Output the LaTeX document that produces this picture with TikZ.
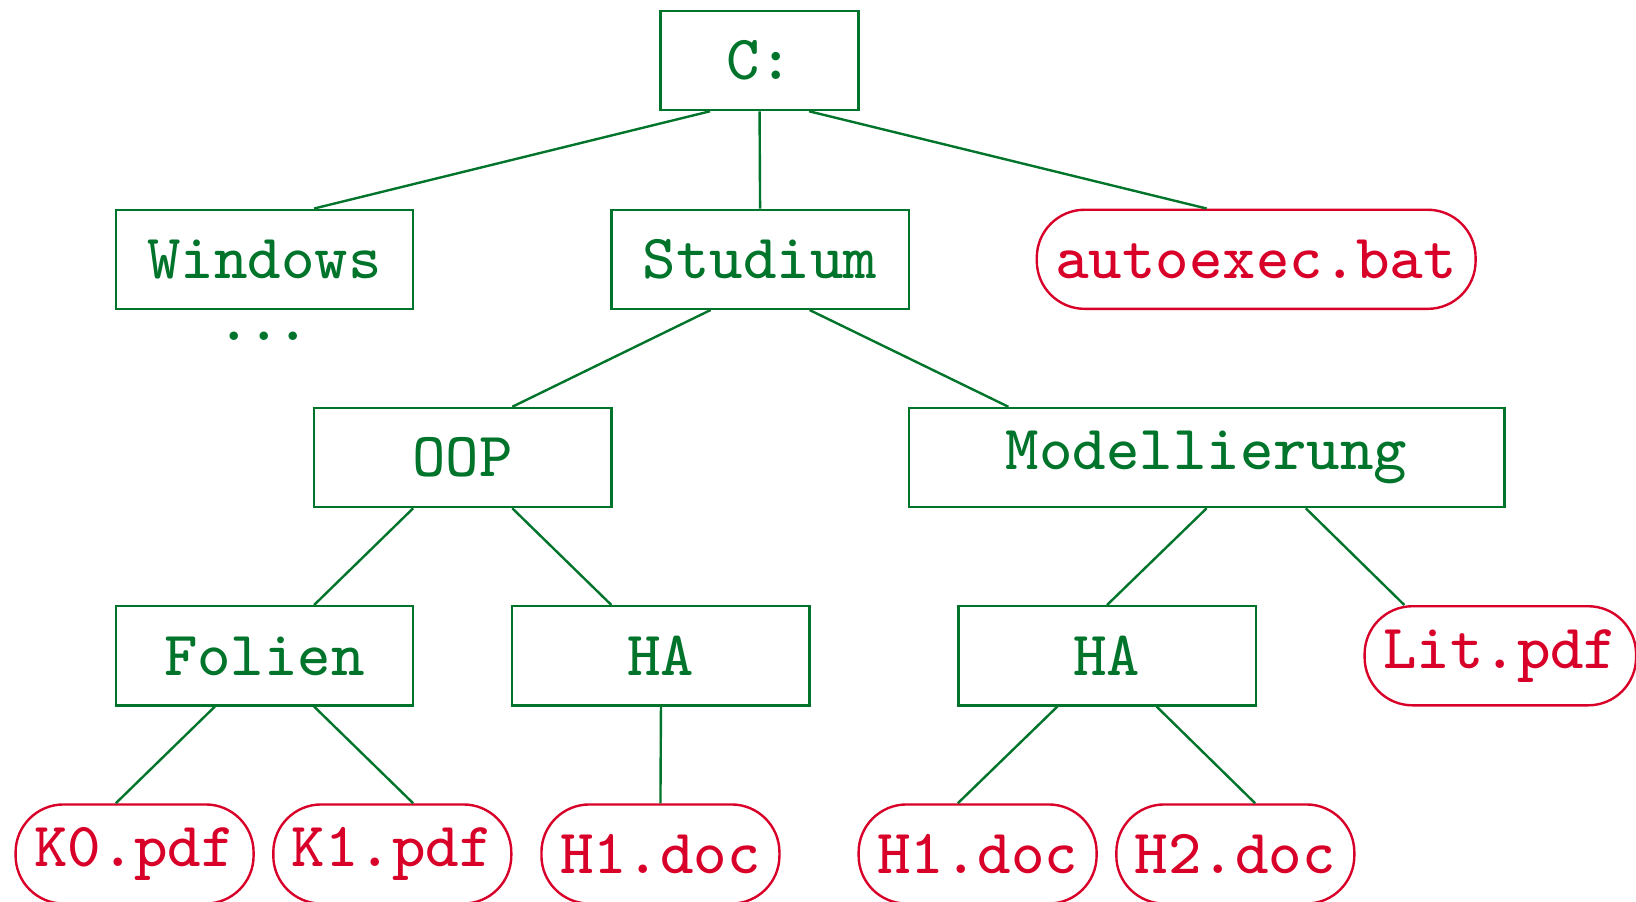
\documentclass[tikz,border=0pt]{standalone}
\usetikzlibrary{calc}
\definecolor{dgreen}{RGB}{0,116,42}
\definecolor{dred}{RGB}{216,0,40}
\font\mytt=cmtt8 at 10pt
\begin{document}
\begin{tikzpicture}[x=0.1656pt,y=-0.1656pt,
  every node/.style={font=\mytt},
  dir/.style={draw=dgreen,text=dgreen,line width=0.38pt,inner sep=0pt,minimum height=15.73pt,minimum width=47.2pt},
  file/.style={draw=dred,text=dred,line width=0.38pt,rounded corners=7.6pt,inner ysep=0pt,inner xsep=2.95pt,minimum height=15.73pt},
  edge/.style={draw=dgreen,line width=0.38pt}]
\useasboundingbox (0,0) rectangle (1568,864);
\node[dir,minimum width=31.46pt] (C) at (728,58) {C:};
\node[dir] (Windows) at (253.5,248.5) {Windows};
\node[dir] (Studium) at (728.5,248.5) {Studium};
\node[file] (auto) at (1204,248.5) {autoexec.bat};
\node[text=dgreen,inner sep=0pt] (dots) at (253,322) {.\kern-0.6pt.\kern-0.6pt.};
\node[dir] (OOP) at (443.5,438.5) {OOP};
\node[dir,minimum width=94.56pt] (Mod) at (1156.5,438.5) {Modellierung};
\node[dir] (Folien) at (253.5,628.5) {Folien};
\node[dir] (HAa) at (633.5,628.5) {HA};
\node[dir] (HAb) at (1061,628.5) {HA};
\node[file] (Lit) at (1438,628.5) {Lit.pdf};
\node[file] (K0) at (129,818.5) {K0.pdf};
\node[file] (K1) at (376,818.5) {K1.pdf};
\node[file] (H1a) at (633,818.5) {H1.doc};
\node[file] (H1b) at (937,818.5) {H1.doc};
\node[file] (H2) at (1184,818.5) {H2.doc};
\draw[edge] ($(C.south)+(-47.5,0)$) -- ($(Windows.north)+(47.5,0)$);
\draw[edge] (C.south) -- (Studium.north);
\draw[edge] ($(C.south)+(47.5,0)$) -- ($(auto.north)+(-47.5,0)$);
\draw[edge] ($(Studium.south)+(-47.5,0)$) -- ($(OOP.north)+(47.5,0)$);
\draw[edge] ($(Studium.south)+(47.5,0)$) -- ($(Mod.north)+(-190,0)$);
\draw[edge] ($(OOP.south)+(-47.5,0)$) -- ($(Folien.north)+(47.5,0)$);
\draw[edge] ($(OOP.south)+(47.5,0)$) -- ($(HAa.north)+(-47.5,0)$);
\draw[edge] (HAa.south) -- (H1a.north);
\draw[edge] ($(Folien.south)+(-47.5,0)$) -- ($(K0.north)+(-18,0)$);
\draw[edge] ($(Folien.south)+(47.5,0)$) -- ($(K1.north)+(20,0)$);
\draw[edge] (Mod.south) -- (HAb.north);
\draw[edge] ($(Mod.south)+(95,0)$) -- ($(Lit.north)+(-92,0)$);
\draw[edge] ($(HAb.south)+(-47.5,0)$) -- ($(H1b.north)+(-19,0)$);
\draw[edge] ($(HAb.south)+(47.5,0)$) -- ($(H2.north)+(19,0)$);
\end{tikzpicture}
\end{document}
